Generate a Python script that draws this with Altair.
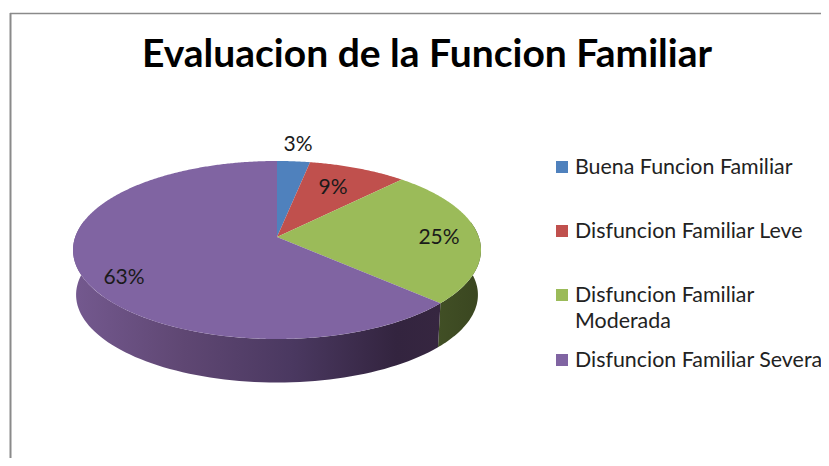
import numpy as np
import altair as alt

# --- data
categories = ["Buena Funcion Familiar", "Disfuncion Familiar Leve",
              "Disfuncion Familiar\nModerada", "Disfuncion Familiar Severa"]
shares = [3, 9, 25, 63]
share_labels = ["3%", "9%", "25%", "63%"]
title_text = "Evaluacion de la Funcion Familiar"
top_colors = ["#4f81bd", "#c0504d", "#9bbb59", "#8064a2"]

# --- layout (chart pixels = page pixels - 8)
OFF = 8
APEX = (277 - OFF, 237 - OFF)
A, B, P = 201.8, 87.1, 0.146   # perspective of the pie's rim
DEPTH, BASE_SCALE = 45, 0.985
label_xy = [(298, 144.5), (333, 187.5), (439, 238), (124, 278)]
legend_sq_x, legend_tx_x = 562, 575
legend_base_y = [174, 238, 302, 367]
legend_sq_y = [167, 231, 295, 360]
W, H = 813, 450


def rim(theta_deg, scale=1.0, dy=0.0):
    t = np.radians(np.asarray(theta_deg, dtype=float))
    x, y = np.sin(t), -np.cos(t)
    d = 1 - P * y
    return np.c_[scale * A * x / d, scale * B * y / d + dy]


def feature(pts):
    ring = [[float(a), float(b)] for a, b in pts]
    ring.append(ring[0])
    return {"type": "Feature", "properties": {},
            "geometry": {"type": "Polygon", "coordinates": [ring]}}


cum = np.cumsum([0] + shares) * 3.6
projection = alt.Projection(type="identity", scale=1, translate=list(APEX))


def shape(pts, **mark):
    return alt.Chart(alt.InlineData(values=[feature(pts)], format=alt.DataFormat(type="json"))
                     ).mark_geoshape(strokeWidth=0, **mark).project(**projection.to_dict())


def wall(t0, t1):
    th = np.linspace(t0, t1, 80)
    return np.vstack([rim(th), rim(th[::-1], BASE_SCALE, DEPTH)])


def grad(stops):
    return alt.Gradient(gradient="linear", x1=0, x2=1, y1=0, y2=0,
                        stops=[alt.GradientStop(offset=o, color=c) for o, c in stops])


layers = []
# side walls
layers.append(shape(wall(80, cum[3]), fill=grad([(0, "#414f25"), (1, "#3a4620")])))
layers.append(shape(wall(cum[3], 281), fill=grad([
    (0, "#74598f"), (0.3, "#5f4773"), (0.6, "#4a3860"), (0.88, "#33243f"), (1, "#362640")])))
# top faces
for i, c in enumerate(top_colors):
    th = np.linspace(cum[i], cum[i + 1], max(int(cum[i + 1] - cum[i]), 2) * 2)
    layers.append(shape(np.vstack([[[0, 0]], rim(th)]), fill=c, stroke=c))

labels = alt.Chart(alt.Data(values=[
    {"t": t, "x": p[0] - OFF, "y": p[1] - OFF} for t, p in zip(share_labels, label_xy)
])).mark_text(font="Lato", fontSize=21, color="#1a1a1a", align="center", baseline="middle").encode(
    x=alt.X("x:Q", scale=None, axis=None), y=alt.Y("y:Q", scale=None, axis=None), text="t:N")

legend_rows = [{"cat": c, "col": k, "sx": legend_sq_x - OFF, "sy": s - OFF,
                "tx": legend_tx_x - OFF, "ty": b - OFF}
               for c, k, s, b in zip(categories, top_colors, legend_sq_y, legend_base_y)]
legend_sq = alt.Chart(alt.Data(values=legend_rows)).mark_square(size=144, opacity=1, filled=True).encode(
    x=alt.X("sx:Q", scale=None, axis=None), y=alt.Y("sy:Q", scale=None, axis=None),
    fill=alt.Fill("col:N", scale=None))
legend_tx = alt.Chart(alt.Data(values=legend_rows)).mark_text(
    font="Lato", fontSize=21.4, color="#222222", align="left", baseline="alphabetic",
    lineBreak="\n", lineHeight=26).encode(
    x=alt.X("tx:Q", scale=None, axis=None), y=alt.Y("ty:Q", scale=None, axis=None), text="cat:N")

title = alt.Chart(alt.Data(values=[{"t": title_text, "x": 427 - OFF, "y": 55 - OFF}])).mark_text(
    font="Lato", fontSize=39, fontWeight="bold", color="#000000", align="center", baseline="middle").encode(
    x=alt.X("x:Q", scale=None, axis=None), y=alt.Y("y:Q", scale=None, axis=None), text="t:N")

frame_top = alt.Chart(alt.Data(values=[{"a": 1}])).mark_rule(color="#8a8a8a", strokeWidth=1.5).encode(
    x=alt.value(2), x2=alt.value(W), y=alt.value(5.5))
frame_left = alt.Chart(alt.Data(values=[{"a": 1}])).mark_rule(color="#8a8a8a", strokeWidth=2).encode(
    x=alt.value(2.5), y=alt.value(5), y2=alt.value(H))

chart = alt.layer(*layers, frame_top, frame_left, labels, legend_sq, legend_tx, title).properties(
    width=W, height=H, padding=0, background="white", autosize=alt.AutoSizeParams(type="none")
).configure_view(stroke=None)

chart.save("out.html", embed_options={"renderer": "svg", "actions": False})
